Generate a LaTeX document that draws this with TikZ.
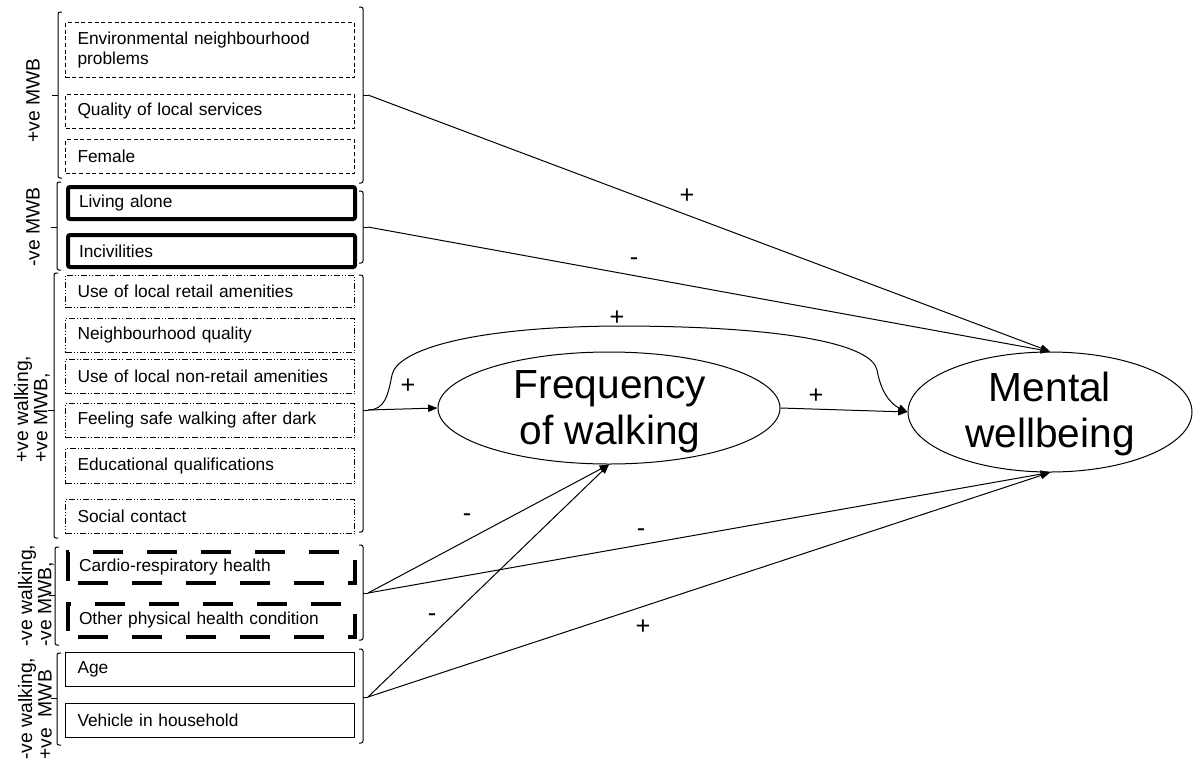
\documentclass[tikz,border=0pt]{standalone}
\usepackage{fontspec}
\setmainfont{Liberation Sans}
\usetikzlibrary{arrows.meta,shapes.geometric}

% left square bracket: x, top, bottom, middle
\newcommand\grpleft[4]{%
  \draw[brk] ({#1+4},#2) -- (#1,#2) -- (#1,#3) -- ({#1+4},#3);
  \draw[brk] (#1,#4) -- ({#1-6},#4);}
% right square bracket: x, top, bottom, middle, name of the tip
\newcommand\grpright[5]{%
  \draw[brk] ({#1-4},#2) -- (#1,#2) -- (#1,#3) -- ({#1-4},#3);
  \draw[brk] (#1,#4) -- ({#1+5},#4) coordinate (#5);}

\begin{document}
\begin{tikzpicture}[x=0.75pt,y=-0.75pt,
  brk/.style={line width=0.75pt, rounded corners=1.5pt},
  item/.style={draw, line width=0.75pt, anchor=north west, inner xsep=9pt,
    inner ysep=0pt, text width=198.75pt, align=left,
    font=\fontsize{13}{15.5}\selectfont},
  dashedbox/.style={dash pattern=on 3pt off 2pt},
  thickbox/.style={line width=3pt, rounded corners=1.5pt, inner xsep=8.25pt},
  dotdashbox/.style={dash pattern=on 4.5pt off 1.5pt on 0.75pt off 1.5pt on 0.75pt off 1.5pt},
  longdashbox/.style={line width=3pt, inner xsep=8.25pt,
    dash pattern=on 22.5pt off 18pt, dash phase=33pt},
  grplabel/.style={rotate=90, anchor=west, inner sep=0pt, align=left,
    font=\fontsize{14.5}{14.5}\selectfont},
  oval/.style={ellipse, draw, line width=0.75pt, inner sep=0pt},
  bigtext/.style={align=center, inner sep=0pt, font=\fontsize{30.5}{34.5}\selectfont},
  sign/.style={inner sep=0pt, font=\fontsize{19}{20}\selectfont},
  conn/.style={line width=0.75pt, -{Triangle[length=7pt,width=5.5pt]}}]
\useasboundingbox (0,0) rectangle (1193,765);

% ---- group 1: positive for mental wellbeing
\node[item, dashedbox, minimum height=55*0.75pt] (env) at (65,22) {Environmental neighbourhood\\problems};
\node[item, dashedbox, minimum height=34*0.75pt] (qual) at (65,94) {Quality of local services};
\node[item, dashedbox, minimum height=34*0.75pt] (fem) at (65,139) {Female};
\grpleft{58}{12}{178}{95}
\grpright{363}{7}{183}{95}{g1}
\node[grplabel] (l1) at (33,143) {+ve MWB};

% ---- group 2: negative for mental wellbeing
\node[item, thickbox, minimum height=32*0.75pt] (alone) at (66,185) {Living alone};
\node[item, thickbox, minimum height=32*0.75pt] (inciv) at (66,233) {Incivilities};
\grpleft{57}{182}{270}{227}
\grpright{363}{191}{263}{227}{g2}
\node[grplabel] (l2) at (33,267) {-ve MWB};

% ---- group 3: positive for walking and mental wellbeing
\node[item, dotdashbox, minimum height=32*0.75pt] (retail) at (65,275) {Use of local retail amenities};
\node[item, dotdashbox, minimum height=34*0.75pt] (nqual) at (65,318) {Neighbourhood quality};
\node[item, dotdashbox, minimum height=34*0.75pt] (nonret) at (65,359) {Use of local non-retail amenities};
\node[item, dotdashbox, minimum height=34*0.75pt] (safe) at (65,403) {Feeling safe walking after dark};
\node[item, dotdashbox, minimum height=35*0.75pt] (edu) at (65,448) {Educational qualifications};
\node[item, dotdashbox, minimum height=34*0.75pt] (social) at (65,499) {Social contact};
\grpleft{54}{273}{538}{410}
\grpright{363}{275}{532}{410}{g3}
\node[grplabel] (l3) at (32,463) {+ve walking,\\+ve MWB,};

% ---- group 4: negative for walking and mental wellbeing
\node[item, longdashbox, minimum height=31*0.75pt] (cardio) at (66,550) {Cardio-respiratory health};
\node[item, longdashbox, minimum height=33*0.75pt] (phys) at (66,602) {Other physical health condition};
\grpleft{55}{547}{645}{595}
\grpright{363}{545}{640}{593}{g4}
\node[grplabel] (l4) at (36,647) {-ve walking,\\-ve MWB,};

% ---- group 5: negative for walking, positive for mental wellbeing
\node[item, minimum height=34*0.75pt] (age) at (65,652) {Age};
\node[item, minimum height=34*0.75pt] (veh) at (65,703) {Vehicle in household};
\grpleft{57}{653}{745}{698}
\grpright{363}{649}{743}{697}{g5}
\node[grplabel] (l5) at (35,760) {-ve walking,\\+ve\ \ MWB};

% ---- outcomes
\node[oval, minimum width=342*0.75pt, minimum height=112*0.75pt] (FW) at (609,408) {};
\node[bigtext] (FWt) at (610,412) {Frequency\\of walking};
\node[oval, minimum width=284*0.75pt, minimum height=120*0.75pt] (MW) at (1050,412) {};
\node[bigtext] (MWt) at (1050,414) {Mental\\wellbeing};

% ---- paths
\draw[conn] (g1) -- (MW.north);
\draw[conn] (g2) -- (MW.north);
\draw[conn] (g3) -- (FW.west);
\draw[conn] (g3) .. controls (385,410) and (388,395) .. (392,375)
  .. controls (397,350) and (470,327) .. (617,326)
  .. controls (790,326) and (872,345) .. (877,370)
  .. controls (882,398) and (895,406) .. (MW.west);
\draw[conn] (FW.east) -- (MW.west);
\draw[conn] (g4) -- (FW.south);
\draw[conn] (g4) -- (MW.south);
\draw[conn] (g5) -- (FW.south);
\draw[conn] (g5) -- (MW.south);

% ---- signs on the paths
\node[sign] (s1) at (687,196) {+};
\node[sign] (s2) at (634,262) {-};
\node[sign] (s3) at (617,318) {+};
\node[sign] (s4) at (408,386) {+};
\node[sign] (s5) at (816,396) {+};
\node[sign] (s6) at (467,518) {-};
\node[sign] (s7) at (641,533) {-};
\node[sign] (s8) at (432,618) {-};
\node[sign] (s9) at (643,627) {+};
\end{tikzpicture}
\end{document}
